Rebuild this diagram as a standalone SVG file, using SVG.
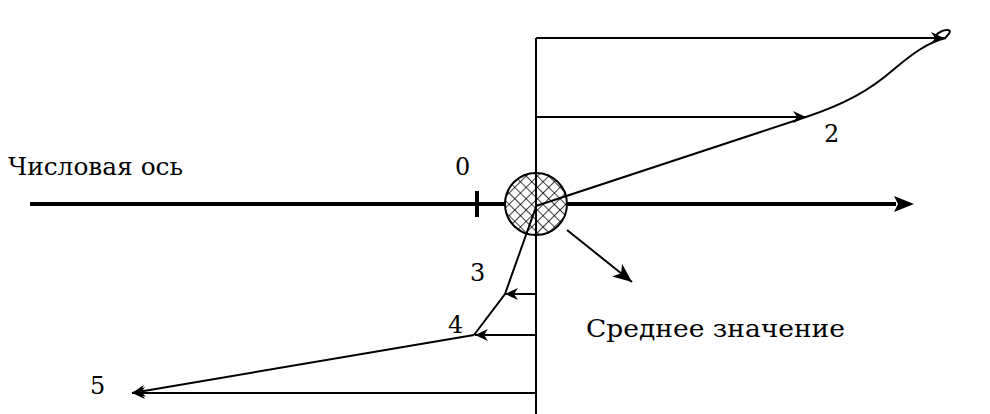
<svg xmlns="http://www.w3.org/2000/svg" width="990" height="414" viewBox="0 0 990 414">
<style>
text{font-family:'DejaVu Serif',serif;font-size:24px;fill:#000}
.l{stroke:#000;stroke-width:2;fill:none}
</style>
<defs>
<pattern id="hatch" width="8" height="8" patternUnits="userSpaceOnUse" patternTransform="rotate(45)">
<rect width="8" height="8" fill="#fff"/>
<line x1="0" y1="0" x2="0" y2="8" stroke="#000" stroke-width="1.5"/>
<line x1="0" y1="0" x2="8" y2="0" stroke="#000" stroke-width="1.5"/>
</pattern>
<marker id="oa" markerWidth="14" markerHeight="12" refX="13" refY="6" orient="auto" markerUnits="userSpaceOnUse">
<path d="M0,0 L13,6 L0,12 L4,6 Z" fill="#000"/>
</marker>
<marker id="fa" markerWidth="20" markerHeight="16" refX="19" refY="8" orient="auto" markerUnits="userSpaceOnUse">
<path d="M0,0 L19,8 L0,16 L5,8 Z" fill="#000"/>
</marker>
</defs>
<g id="axis">
<line x1="30" y1="204" x2="896" y2="204" stroke="#000" stroke-width="4"/>
<path d="M894,196 L914,204 L894,212 L898,204 Z" fill="#000"/>
<line x1="477" y1="191" x2="477" y2="217" stroke="#000" stroke-width="4"/>
<text x="8" y="175" textLength="175" lengthAdjust="spacingAndGlyphs">Числовая ось</text>
<text x="455" y="175">0</text>
</g>
<g id="mean">
<circle cx="536" cy="204" r="31" fill="url(#hatch)" stroke="#000" stroke-width="2"/>
</g>
<g id="connectors">
<line class="l" x1="536" y1="38" x2="536" y2="414"/>
<line class="l" x1="536" y1="38" x2="944" y2="38" marker-end="url(#oa)"/>
<path class="l" d="M945,38 C950,33 952,30 947,30 C943,30 938,33 935,36"/>
<line class="l" x1="536" y1="117" x2="806" y2="117" marker-end="url(#oa)"/>
<path class="l" d="M536,206 L806,117 C845,104 870,90 893,70 C912,54 928,42 946,38"/>
<line class="l" x1="536" y1="294" x2="505" y2="294" marker-end="url(#oa)"/>
<line class="l" x1="536" y1="335" x2="475" y2="335" marker-end="url(#oa)"/>
<line class="l" x1="536" y1="393" x2="132" y2="393" marker-end="url(#oa)"/>
<polyline class="l" points="537,204 505,294 474,335"/>
<line class="l" x1="474" y1="335" x2="132" y2="393" marker-end="url(#oa)"/>
<line class="l" x1="567" y1="230" x2="632" y2="282" marker-end="url(#fa)"/>
</g>
<g id="labels">
<text x="824" y="142">2</text>
<text x="470" y="281">3</text>
<text x="448" y="333">4</text>
<text x="90" y="394">5</text>
<text x="586" y="337" textLength="259" lengthAdjust="spacingAndGlyphs">Среднее значение</text>
</g>
</svg>
